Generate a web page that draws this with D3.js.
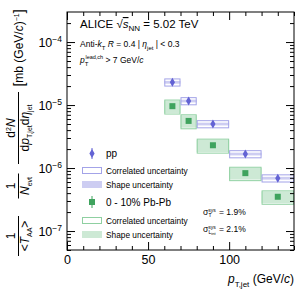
<!DOCTYPE html>
<html><head><meta charset="utf-8">
<script src="https://cdn.jsdelivr.net/npm/d3@7"></script>
<style>body{margin:0;background:#fff}svg{display:block;font-family:"Liberation Sans",Arial,sans-serif}</style>
</head><body><svg id="c" width="307" height="295"></svg>
<script>
// ---- data ----
const binLo = [60, 70, 80, 100, 120];
const binHi = [70, 80, 100, 120, 140];
const ppValues = [2.3e-5, 1.16e-5, 5.0e-6, 1.67e-6, 6.9e-7];
const ppStat = [0.05, 0.05, 0.05, 0.06, 0.08];      // relative
const ppCorr = [0.13, 0.13, 0.13, 0.13, 0.13];      // relative
const ppShape = [0.05, 0.05, 0.05, 0.05, 0.05];     // relative
const pbValues = [9.6e-6, 5.6e-6, 2.3e-6, 8.3e-7, 3.5e-7];
const pbStat = [0.04, 0.04, 0.05, 0.06, 0.08];
const pbCorr = [0.25, 0.25, 0.25, 0.24, 0.24];
const pbShape = [0.22, 0.22, 0.22, 0.21, 0.21];
const xTickValues = [0, 50, 100];
const yTickExps = [-7, -6, -5, -4];

const W = 307, H = 295;
const L = 67, R = 294, T = 12, B = 250;
const ppCol = "#6363d4", ppLine = "#a3a3e8", ppFill = "#cdcdf2";
const pbCol = "#3fa35e", pbLine = "#8fd0a1", pbFill = "#cde9d5";

const svg = d3.select("#c");
const x = d3.scaleLinear().domain([0, 140]).range([L, R]);
const y = d3.scaleLog().domain([5e-8, 3e-4]).range([B, T]);

// ---- data marks ----
const idx = d3.range(binLo.length);
svg.append("g").selectAll("rect").data(idx).join("rect")
  .attr("x", i => x(binLo[i])).attr("width", i => x(binHi[i]) - x(binLo[i]))
  .attr("y", i => y(pbValues[i] * (1 + pbShape[i])))
  .attr("height", i => y(pbValues[i] * (1 - pbShape[i])) - y(pbValues[i] * (1 + pbShape[i])))
  .attr("fill", pbFill);
svg.append("g").selectAll("rect").data(idx).join("rect")
  .attr("x", i => x(binLo[i]) + 0.5).attr("width", i => x(binHi[i]) - x(binLo[i]) - 1)
  .attr("y", i => y(pbValues[i] * (1 + pbCorr[i])))
  .attr("height", i => y(pbValues[i] * (1 - pbCorr[i])) - y(pbValues[i] * (1 + pbCorr[i])))
  .attr("fill", "none").attr("stroke", pbLine).attr("stroke-width", 1);
svg.append("g").selectAll("rect").data(idx).join("rect")
  .attr("x", i => x(binLo[i])).attr("width", i => x(binHi[i]) - x(binLo[i]))
  .attr("y", i => y(ppValues[i] * (1 + ppShape[i])))
  .attr("height", i => y(ppValues[i] * (1 - ppShape[i])) - y(ppValues[i] * (1 + ppShape[i])))
  .attr("fill", ppFill);
svg.append("g").selectAll("rect").data(idx).join("rect")
  .attr("x", i => x(binLo[i]) + 0.5).attr("width", i => x(binHi[i]) - x(binLo[i]) - 1)
  .attr("y", i => y(ppValues[i] * (1 + ppCorr[i])))
  .attr("height", i => y(ppValues[i] * (1 - ppCorr[i])) - y(ppValues[i] * (1 + ppCorr[i])))
  .attr("fill", "none").attr("stroke", ppLine).attr("stroke-width", 1);

function diamond(g, cx, cy, col) {
  g.append("path").attr("d", `M${cx},${cy - 4.5}L${cx + 2.6},${cy}L${cx},${cy + 4.5}L${cx - 2.6},${cy}Z`).attr("fill", col);
}
function square(g, cx, cy, col) {
  g.append("rect").attr("x", cx - 3).attr("y", cy - 3).attr("width", 6).attr("height", 6).attr("fill", col);
}
const gpp = svg.append("g");
idx.forEach(i => {
  const cx = x((binLo[i] + binHi[i]) / 2);
  gpp.append("line").attr("x1", cx).attr("x2", cx)
    .attr("y1", y(ppValues[i] * (1 + ppStat[i])) - 1).attr("y2", y(ppValues[i] * (1 - ppStat[i])) + 1)
    .attr("stroke", ppCol).attr("stroke-width", 1);
  diamond(gpp, cx, y(ppValues[i]), ppCol);
});
const gpb = svg.append("g");
idx.forEach(i => {
  const cx = x((binLo[i] + binHi[i]) / 2);
  square(gpb, cx, y(pbValues[i]), pbCol);
});

// ---- axes ----
const minorX = d3.range(0, 141, 10).filter(v => v % 50 !== 0);
const minorY = [];
for (let e = -8; e <= -4; e++) for (let m = 2; m <= 9; m++) { const v = m * Math.pow(10, e); if (v >= 5e-8 && v <= 3e-4) minorY.push(v); }
const majorY = yTickExps.map(e => Math.pow(10, e));

function styleAxis(g) { g.select(".domain").remove(); g.selectAll("line").attr("stroke", "#000"); }
svg.append("g").attr("transform", `translate(0,${B})`)
  .call(d3.axisBottom(x).tickValues(xTickValues).tickSize(-8).tickPadding(5).tickFormat(d3.format("d")))
  .call(styleAxis)
  .call(g => g.selectAll("text").attr("font-size", 12.5).attr("fill", "#000").attr("font-family", "Liberation Sans, Arial"));
svg.append("g").attr("transform", `translate(0,${B})`)
  .call(d3.axisBottom(x).tickValues(minorX).tickSize(-4).tickFormat("")).call(styleAxis);
svg.append("g").attr("transform", `translate(0,${T})`)
  .call(d3.axisTop(x).tickValues(xTickValues).tickSize(-8).tickFormat("")).call(styleAxis);
svg.append("g").attr("transform", `translate(0,${T})`)
  .call(d3.axisTop(x).tickValues(minorX).tickSize(-4).tickFormat("")).call(styleAxis);
svg.append("g").attr("transform", `translate(${L},0)`)
  .call(d3.axisLeft(y).tickValues(majorY).tickSize(-8).tickFormat("")).call(styleAxis);
svg.append("g").attr("transform", `translate(${L},0)`)
  .call(d3.axisLeft(y).tickValues(minorY).tickSize(-4).tickFormat("")).call(styleAxis);
svg.append("g").attr("transform", `translate(${R},0)`)
  .call(d3.axisRight(y).tickValues(majorY).tickSize(-8).tickFormat("")).call(styleAxis);
svg.append("g").attr("transform", `translate(${R},0)`)
  .call(d3.axisRight(y).tickValues(minorY).tickSize(-4).tickFormat("")).call(styleAxis);
svg.append("rect").attr("x", L).attr("y", T).attr("width", R - L).attr("height", B - T)
  .attr("fill", "none").attr("stroke", "#000").attr("stroke-width", 1);

yTickExps.forEach(e => {
  const t = svg.append("text").attr("x", L - 5).attr("y", y(Math.pow(10, e)) + 5)
    .attr("text-anchor", "end").attr("font-size", 12.5);
  t.append("tspan").text("10");
  t.append("tspan").attr("dy", -5).attr("font-size", 8.5).text("\u2212" + (-e));
});

// ---- x title ----
{
  const t = svg.append("text").attr("x", R).attr("y", 283).attr("text-anchor", "end").attr("font-size", 12);
  t.append("tspan").attr("font-style", "italic").text("p");
  t.append("tspan").attr("dy", 3.5).attr("font-size", 8).text("T,jet");
  t.append("tspan").attr("dy", -3.5).text(" (GeV/");
  t.append("tspan").attr("font-style", "italic").text("c");
  t.append("tspan").text(")");
}

// ---- y title (rotated) ----
const yt = svg.append("g").attr("transform", "rotate(-90)").attr("font-size", 12);
function frac(cy, num, den, lineLen) {
  const tn = yt.append("text").attr("x", -cy).attr("y", 15).attr("text-anchor", "middle");
  num(tn);
  yt.append("line").attr("x1", -cy - lineLen / 2).attr("x2", -cy + lineLen / 2).attr("y1", 18.5).attr("y2", 18.5)
    .attr("stroke", "#000").attr("stroke-width", 1);
  const td = yt.append("text").attr("x", -cy).attr("y", 29).attr("text-anchor", "middle");
  den(td);
}
frac(236, t => t.text("1"), t => {
  t.append("tspan").text("<");
  t.append("tspan").attr("font-style", "italic").text("T");
  t.append("tspan").attr("dy", 3).attr("font-size", 7).text("AA");
  t.append("tspan").attr("dy", -3).text(">");
}, 40);
frac(186, t => t.text("1"), t => {
  t.append("tspan").attr("font-style", "italic").text("N");
  t.append("tspan").attr("dy", 3).attr("font-size", 7).text("evt");
}, 25);
frac(128, t => {
  t.append("tspan").text("d");
  t.append("tspan").attr("dy", -4).attr("font-size", 7).text("2");
  t.append("tspan").attr("dy", 4).attr("font-style", "italic").text("N");
}, t => {
  t.append("tspan").text("d");
  t.append("tspan").attr("font-style", "italic").text("p");
  t.append("tspan").attr("dy", 3).attr("font-size", 7).text("T,jet");
  t.append("tspan").attr("dy", -3).text("d");
  t.append("tspan").attr("font-style", "italic").text("\u03b7");
  t.append("tspan").attr("dy", 3).attr("font-size", 7).text("jet");
}, 72);
{
  const t = yt.append("text").attr("x", -48).attr("y", 23).attr("text-anchor", "middle");
  t.append("tspan").attr("font-size", 14).attr("dy", 1).text("[");
  t.append("tspan").attr("dy", -1).text("mb (GeV/");
  t.append("tspan").attr("font-style", "italic").text("c");
  t.append("tspan").text(")");
  t.append("tspan").attr("dy", -4).attr("font-size", 7).text("\u22121");
  t.append("tspan").attr("dy", 5).attr("font-size", 14).text("]");
}

// ---- header ----
{
  const t = svg.append("text").attr("x", 80).attr("y", 28).attr("font-size", 11.5);
  t.append("tspan").text("ALICE  ");
  t.append("tspan").text("\u221a");
  t.append("tspan").attr("font-style", "italic").attr("text-decoration", "overline").text("s");
  t.append("tspan").attr("dy", 3).attr("font-size", 8).text("NN");
  t.append("tspan").attr("dy", -3).text(" = 5.02 TeV");
}
{
  const t = svg.append("text").attr("x", 80).attr("y", 47).attr("font-size", 8.5);
  t.append("tspan").text("Anti-");
  t.append("tspan").attr("font-style", "italic").text("k");
  t.append("tspan").attr("dy", 2.5).attr("font-size", 6).text("T");
  t.append("tspan").attr("dy", -2.5).text("  ");
  t.append("tspan").attr("font-style", "italic").text("R");
  t.append("tspan").text(" = 0.4  | ");
  t.append("tspan").attr("font-style", "italic").text("\u03b7");
  t.append("tspan").attr("dy", 2.5).attr("font-size", 6).text("jet");
  t.append("tspan").attr("dy", -2.5).text(" | < 0.3");
}
{
  const t = svg.append("text").attr("x", 80).attr("y", 63).attr("font-size", 8.5);
  t.append("tspan").attr("font-style", "italic").text("p");
  t.append("tspan").attr("dy", 2.5).attr("font-size", 6).text("T");
  t.append("tspan").attr("dx", -3).attr("dy", -7).attr("font-size", 5.5).text("lead,ch");
  t.append("tspan").attr("dy", 4.5).text(" > 7 GeV/");
  t.append("tspan").attr("font-style", "italic").text("c");
}

// ---- legend ----
const lg = svg.append("g");
{
  const cx = 92;
  lg.append("line").attr("x1", cx).attr("x2", cx).attr("y1", 148).attr("y2", 159).attr("stroke", ppCol);
  diamond(lg, cx, 153.5, ppCol);
  lg.append("text").attr("x", 106).attr("y", 157).attr("font-size", 10).text("pp");
  lg.append("rect").attr("x", 82.5).attr("y", 167.5).attr("width", 19).attr("height", 6).attr("fill", "none").attr("stroke", ppLine);
  lg.append("text").attr("x", 106).attr("y", 173.5).attr("font-size", 8.3).text("Correlated uncertainty");
  lg.append("rect").attr("x", 82).attr("y", 181).attr("width", 20).attr("height", 7).attr("fill", ppFill);
  lg.append("text").attr("x", 106).attr("y", 187.5).attr("font-size", 8.3).text("Shape uncertainty");
  lg.append("line").attr("x1", cx).attr("x2", cx).attr("y1", 196).attr("y2", 208).attr("stroke", pbCol);
  square(lg, cx, 202, pbCol);
  lg.append("text").attr("x", 106).attr("y", 206).attr("font-size", 10).text("0 - 10% Pb-Pb");
  lg.append("rect").attr("x", 82.5).attr("y", 217.5).attr("width", 19).attr("height", 6).attr("fill", "none").attr("stroke", pbLine);
  lg.append("text").attr("x", 106).attr("y", 223.5).attr("font-size", 8.3).text("Correlated uncertainty");
  lg.append("rect").attr("x", 82).attr("y", 231).attr("width", 20).attr("height", 7).attr("fill", pbFill);
  lg.append("text").attr("x", 106).attr("y", 237.5).attr("font-size", 8.3).text("Shape uncertainty");
}
// sigma labels
{
  const t = svg.append("text").attr("x", 203).attr("y", 215).attr("font-size", 8.5);
  t.append("tspan").text("\u03c3");
  t.append("tspan").attr("dy", -3.5).attr("font-size", 5).text("sys");
  t.append("tspan").attr("x", 208.5).attr("dy", 5.5).attr("font-size", 5).text("T");
  t.append("tspan").attr("x", 219).attr("dy", -2).text("= 1.9%");
  const t2 = svg.append("text").attr("x", 203).attr("y", 232).attr("font-size", 8.5);
  t2.append("tspan").text("\u03c3");
  t2.append("tspan").attr("dy", -3).attr("font-size", 5).text("sys");
  t2.append("tspan").attr("x", 208.5).attr("dy", 5).attr("font-size", 5).text("L");
  t2.append("tspan").attr("dy", 1).attr("font-size", 4).text("int");
  t2.append("tspan").attr("x", 219).attr("dy", -3).attr("font-size", 8.5).text("= 2.1%");
}
</script></body></html>
